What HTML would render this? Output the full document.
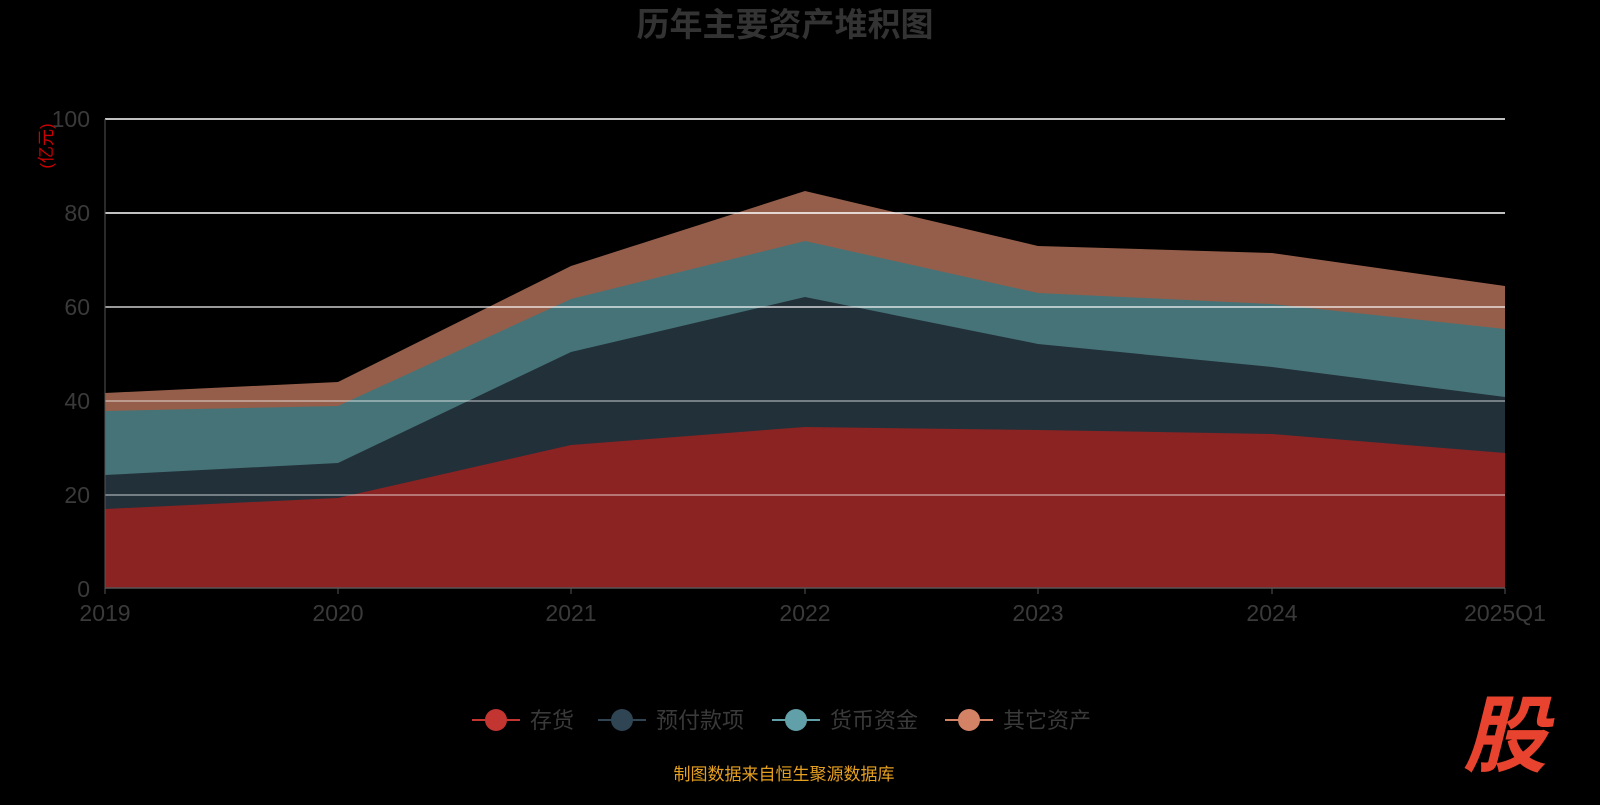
<!DOCTYPE html>
<html><head><meta charset="utf-8"><style>
body{margin:0;background:#000;width:1600px;height:800px;overflow:hidden;font-family:"Liberation Sans","Noto Sans CJK SC",sans-serif}
</style></head><body>
<svg width="1600" height="800" xmlns="http://www.w3.org/2000/svg" font-family="Liberation Sans, Noto Sans CJK SC, sans-serif">
<rect width="1600" height="800" fill="#000"/>
<text x="785" y="36" text-anchor="middle" font-size="33" font-weight="bold" fill="#333">历年主要资产堆积图</text>
<text transform="translate(52,146) rotate(-90)" text-anchor="middle" font-size="17" fill="#c00">(亿元)</text>
<polygon fill="#955E4A" points="105,393 338,382 571,266 805,191 1038,246 1272,253 1505,286 1505,588 105,588"/>
<polygon fill="#467377" points="105,411 338,406 571,299 805,241 1038,293 1272,304 1505,329 1505,588 105,588"/>
<polygon fill="#22303A" points="105,475 338,463 571,352 805,297 1038,344 1272,367 1505,397 1505,588 105,588"/>
<polygon fill="#8B2323" points="105,509 338,498 571,445 805,427 1038,430 1272,434 1505,453 1505,588 105,588"/>
<g stroke="#fff" stroke-width="1.5">
<line x1="105" y1="119" x2="1505" y2="119"/>
<line x1="105" y1="213" x2="1505" y2="213"/>
<line x1="105" y1="307" x2="1505" y2="307" stroke-opacity="0.8"/>
<line x1="105" y1="401" x2="1505" y2="401" stroke-opacity="0.5"/>
<line x1="105" y1="495" x2="1505" y2="495" stroke-opacity="0.5"/>
</g>
<line x1="105" y1="119" x2="105" y2="588" stroke="#555"/>
<line x1="105" y1="588" x2="1505" y2="588" stroke="#555" stroke-width="1.5"/>
<g stroke="#555">
<line x1="105" y1="588" x2="105" y2="594"/><line x1="338" y1="588" x2="338" y2="594"/><line x1="571" y1="588" x2="571" y2="594"/><line x1="805" y1="588" x2="805" y2="594"/><line x1="1038" y1="588" x2="1038" y2="594"/><line x1="1272" y1="588" x2="1272" y2="594"/><line x1="1505" y1="588" x2="1505" y2="594"/>
</g>
<g font-size="23" fill="#3a3a3a" text-anchor="end">
<text x="90" y="127">100</text><text x="90" y="221">80</text><text x="90" y="315">60</text><text x="90" y="409">40</text><text x="90" y="503">20</text><text x="90" y="597">0</text>
</g>
<g font-size="23" fill="#3a3a3a" text-anchor="middle">
<text x="105" y="621">2019</text><text x="338" y="621">2020</text><text x="571" y="621">2021</text><text x="805" y="621">2022</text><text x="1038" y="621">2023</text><text x="1272" y="621">2024</text><text x="1505" y="621">2025Q1</text>
</g>
<g font-size="22" fill="#3a3a3a">
<line x1="472" y1="720" x2="520" y2="720" stroke="#C23531" stroke-width="2"/><circle cx="496" cy="720" r="11" fill="#C23531"/><text x="530" y="728">存货</text>
<line x1="598" y1="720" x2="646" y2="720" stroke="#2F4554" stroke-width="2"/><circle cx="622" cy="720" r="11" fill="#2F4554"/><text x="656" y="728">预付款项</text>
<line x1="772" y1="720" x2="820" y2="720" stroke="#61A0A8" stroke-width="2"/><circle cx="796" cy="720" r="11" fill="#61A0A8"/><text x="830" y="728">货币资金</text>
<line x1="945" y1="720" x2="993" y2="720" stroke="#D48265" stroke-width="2"/><circle cx="969" cy="720" r="11" fill="#D48265"/><text x="1003" y="728">其它资产</text>
</g>
<text x="784" y="780" text-anchor="middle" font-size="17" fill="#E6A020">制图数据来自恒生聚源数据库</text>
<text x="1505" y="765" text-anchor="middle" font-size="84" font-weight="bold" font-style="italic" fill="#E8432E">股</text>
</svg>
</body></html>
